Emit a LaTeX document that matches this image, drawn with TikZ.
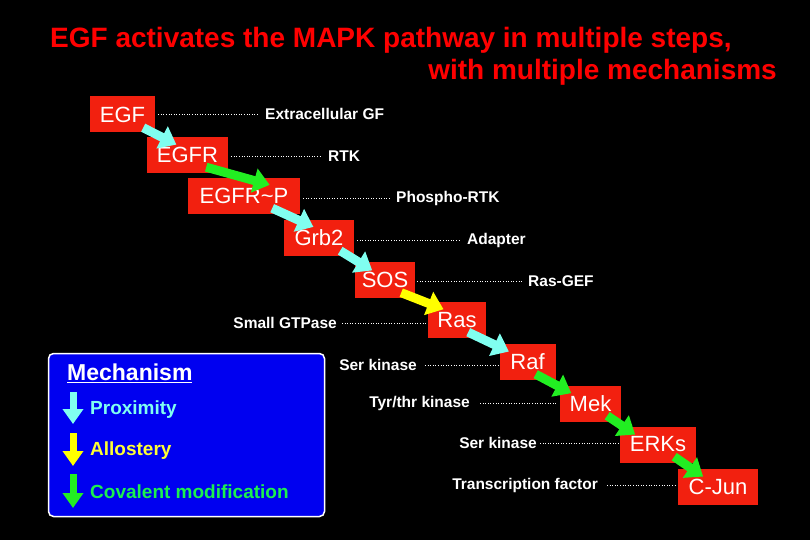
\documentclass[tikz,border=0pt]{standalone}
\usepackage{fontspec}
\setmainfont{Liberation Sans}
\usetikzlibrary{arrows.meta,calc}
\definecolor{boxred}{HTML}{F2200F}
\definecolor{cya}{HTML}{80FFF0}
\definecolor{yel}{HTML}{FFFF00}
\definecolor{grn}{HTML}{22EE22}
\definecolor{legblue}{HTML}{0000F0}
\begin{document}
\begin{tikzpicture}[x=1pt,y=-1pt,
  mol/.style={fill=boxred,text=white,font=\fontsize{22}{24}\selectfont,inner sep=0pt,minimum height=36pt},
  lab/.style={text=white,font=\bfseries\fontsize{15.5}{17}\selectfont,inner sep=0pt},
  dots/.style={white,dotted,line width=0.6pt},
  flow/.style={line width=9pt,-{Triangle[length=16pt,width=24pt]},shorten >=-4pt}]
\fill[black] (0,0) rectangle (810,540);
\useasboundingbox (0,0) rectangle (810,540);
\node[text=red,font=\bfseries\fontsize{28}{30}\selectfont,anchor=west,inner sep=0pt] (t1) at (50,40) {EGF activates the MAPK pathway in multiple steps,};
\node[text=red,font=\bfseries\fontsize{28}{30}\selectfont,anchor=east,inner sep=0pt] (t2) at (777,72) {with multiple mechanisms};
% molecules
\node[mol,minimum width=65pt] (egf) at (122.5,114.5) {EGF};
\node[mol,minimum width=81pt] (egfr) at (187.5,155) {EGFR};
\node[mol,minimum width=112pt] (egfrp) at (244,196) {EGFR\char"7E P};
\node[mol,minimum width=70pt] (grb) at (319,237.5) {Grb2};
\node[mol,minimum width=60pt] (sos) at (385,279.5) {SOS};
\node[mol,minimum width=58pt] (ras) at (457,320) {Ras};
\node[mol,minimum width=56pt] (raf) at (527.5,362) {Raf};
\node[mol,minimum width=61pt] (mek) at (590.5,403.5) {Mek};
\node[mol,minimum width=76pt] (erk) at (658,444.5) {ERKs};
\node[mol,minimum width=80pt] (jun) at (718,486.5) {C-Jun};
% labels
\node[lab,anchor=west] (l1) at (265,114) {Extracellular GF};
\node[lab,anchor=west] (l2) at (328,156) {RTK};
\node[lab,anchor=west] (l3) at (396,198) {Phospho-RTK};
\node[lab,anchor=west] (l4) at (467,240) {Adapter};
\node[lab,anchor=west] (l5) at (528,281) {Ras-GEF};
\node[lab,anchor=east] (l6) at (337,323) {Small GTPase};
\node[lab,anchor=east] (l7) at (417,365) {Ser kinase};
\node[lab,anchor=east] (l8) at (470,403) {Tyr/thr kinase};
\node[lab,anchor=east] (l9) at (537,443) {Ser kinase};
\node[lab,anchor=east] (l10) at (598,485) {Transcription factor};
\draw[dots] (egf.east |- l1) ++(3,0) -- ($(l1.west)+(-6,0)$);
\draw[dots] (egfr.east |- l2) ++(3,0) -- ($(l2.west)+(-7,0)$);
\draw[dots] (egfrp.east |- l3) ++(3,0) -- ($(l3.west)+(-6,0)$);
\draw[dots] (grb.east |- l4) ++(3,0) -- ($(l4.west)+(-6,0)$);
\draw[dots] (sos.east |- l5) ++(2,0) -- ($(l5.west)+(-5,0)$);
\draw[dots] ($(l6.east)+(5,0)$) -- ($(ras.west |- l6)+(-1,0)$);
\draw[dots] ($(l7.east)+(8,0)$) -- ($(raf.west |- l7)+(-1,0)$);
\draw[dots] ($(l8.east)+(10,0)$) -- ($(mek.west |- l8)+(-2,0)$);
\draw[dots] ($(l9.east)+(3,0)$) -- ($(erk.west |- l9)+(0,0)$);
\draw[dots] ($(l10.east)+(9,0)$) -- ($(jun.west |- l10)+(-1,0)$);
% flow arrows
\draw[flow,cya] ($(egf.south east)+(-12,-5)$) -- ($(egfr.north west)+(26,6)$);
\draw[flow,grn] ($(egfr.south east)+(-22,-6)$) -- ($(egfrp.north west)+(78,6)$);
\draw[flow,cya] ($(egfrp.south east)+(-28,-6)$) -- ($(grb.north west)+(26,6)$);
\draw[flow,cya] ($(grb.south east)+(-14,-5)$) -- ($(sos.north west)+(14,7)$);
\draw[flow,yel] ($(sos.south east)+(-14,-5)$) -- ($(ras.north west)+(12,6)$);
\draw[flow,cya] ($(ras.south east)+(-18,-6)$) -- ($(raf.north west)+(6,6)$);
\draw[flow,grn] ($(raf.south east)+(-20,-6)$) -- ($(mek.north west)+(8,6)$);
\draw[flow,grn] ($(mek.south east)+(-14,-6)$) -- ($(erk.north west)+(12,6)$);
\draw[flow,grn] ($(erk.south east)+(-22,-6)$) -- ($(jun.north west)+(22,6)$);
% legend
\node[draw=white,line width=1.5pt,fill=legblue,rounded corners=5pt,minimum width=276pt,minimum height=163pt,inner sep=0pt] (leg) at (186.5,435) {};
\node[text=white,font=\bfseries\fontsize{23}{25}\selectfont,anchor=west,inner sep=0pt] (mech) at (67,373) {\underline{Mechanism}};
\node[font=\bfseries\fontsize{19}{21}\selectfont,text=cya,anchor=west,inner sep=0pt] (p) at (90,410) {Proximity};
\node[font=\bfseries\fontsize{19}{21}\selectfont,text=yel!80!white,anchor=west,inner sep=0pt] (a) at (90,451) {Allostery};
\node[font=\bfseries\fontsize{19}{21}\selectfont,text=grn!80!cyan,anchor=west,inner sep=0pt] (c) at (90,492) {Covalent modification};
\coordinate (pa) at (73,392); \coordinate (pb) at (73,424);
\coordinate (aa) at (73,433); \coordinate (ab) at (73,466);
\coordinate (ca) at (73,474); \coordinate (cb) at (73,508);
\draw[cya,line width=7pt,-{Triangle[length=15pt,width=20pt]}] (pa) -- (pb);
\draw[yel,line width=7pt,-{Triangle[length=15pt,width=20pt]}] (aa) -- (ab);
\draw[grn,line width=7pt,-{Triangle[length=15pt,width=20pt]}] (ca) -- (cb);
\end{tikzpicture}
\end{document}
